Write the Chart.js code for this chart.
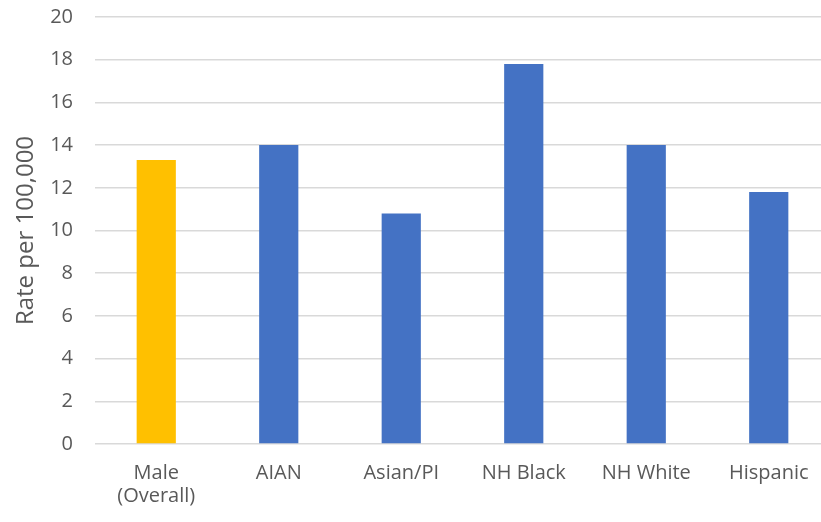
<!DOCTYPE html>
<html>
<head>
<meta charset="utf-8">
<script src="https://cdn.jsdelivr.net/npm/chart.js@4"></script>
<style>
  html, body { margin: 0; padding: 0; background: #fff; overflow: hidden; }
  #wrap { width: 840px; height: 522px; overflow: hidden; }
  #chart { margin-top: -17px; display: block; }
</style>
</head>
<body>
<div id="wrap"><canvas id="chart" width="840" height="539"></canvas></div>
<script>
let categories = [["Male", "(Overall)"], "AIAN", "Asian/PI", "NH Black", "NH White", "Hispanic"];
let rates = [13.3, 14.0, 10.8, 17.8, 14.0, 11.8];
let barColors = ['#FFC000', '#4472C4', '#4472C4', '#4472C4', '#4472C4', '#4472C4'];
let yTicks = [0, 2, 4, 6, 8, 10, 12, 14, 16, 18, 20];

let ctx = document.getElementById('chart').getContext('2d');
let chart = new Chart(ctx, {
    type: 'bar',
    data: {
        labels: categories,
        datasets: [{
            label: 'Rate per 100,000',
            data: rates,
            backgroundColor: barColors,
            borderWidth: 0,
            barPercentage: 0.32,
            categoryPercentage: 1.0
        }]
    },
    options: {
        responsive: false,
        animation: false,
        layout: { padding: { top: 0, right: 10, left: 0, bottom: 0 } },
        plugins: {
            legend: { display: false },
            tooltip: { enabled: false }
        },
        scales: {
            x: {
                grid: { display: false, drawTicks: false },
                border: { display: false },
                ticks: {
                    color: '#595959',
                    padding: 18,
                    maxRotation: 0,
                    autoSkip: false,
                    font: { family: 'Open Sans', size: 20, lineHeight: 1.15 }
                },
                afterFit: function (scale) { scale.height = 78; }
            },
            y: {
                min: 0,
                max: 20,
                afterBuildTicks: function (scale) {
                    scale.ticks = yTicks.map(v => ({ value: v }));
                },
                grid: { color: '#d9d9d9', lineWidth: 1.5, drawTicks: false },
                border: { display: false },
                ticks: {
                    color: '#595959',
                    padding: 22,
                    font: { family: 'Open Sans', size: 20 }
                },
                title: {
                    display: true,
                    text: 'Rate per 100,000',
                    color: '#595959',
                    padding: { top: 12, bottom: 0 },
                    font: { family: 'Open Sans', size: 24 }
                },
                afterFit: function (scale) { scale.width = 95; }
            }
        }
    }
});
</script>
</body>
</html>
